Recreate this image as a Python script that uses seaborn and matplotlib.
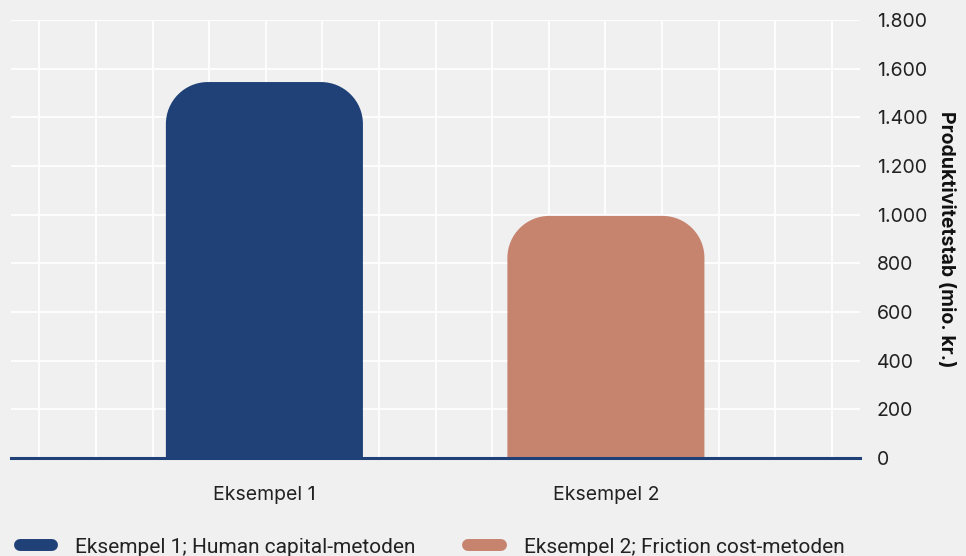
import numpy as np
import matplotlib
matplotlib.use("Agg")
import matplotlib.pyplot as plt
import seaborn as sns
from matplotlib.path import Path
from matplotlib.patches import PathPatch
from matplotlib.lines import Line2D
from matplotlib.ticker import FuncFormatter

# data
categories = ["Eksempel 1", "Eksempel 2"]
values = [1545, 995]
legend_labels = ["Eksempel 1; Human capital-metoden", "Eksempel 2; Friction cost-metoden"]
colors = ["#1f4178", "#c6846f"]
y_ticks = [0, 200, 400, 600, 800, 1000, 1200, 1400, 1600, 1800]
y_label = "Produktivitetstab (mio. kr.)"

BG = "#f0f0f0"
W, H = 966, 556

sns.set_theme(style="white")
plt.rcParams["font.family"] = ["Inter", "DejaVu Sans"]

fig = plt.figure(figsize=(W / 100, H / 100), dpi=100, facecolor=BG)
ax = fig.add_axes([11 / W, 98 / H, 849 / W, 438 / H], facecolor=BG)

sns.barplot(x=categories, y=values, hue=categories, palette=colors,
            width=0.577, legend=False, ax=ax, saturation=1)

ax.set_xlim(-0.742, 1.744)
ax.set_ylim(0, 1800)

# replace bars with rounded-top versions
radius_px = 42
xr = (ax.get_xlim()[1] - ax.get_xlim()[0]) / 849
yr = 1800 / 438
rx, ry = radius_px * xr, radius_px * yr
for p in list(ax.patches):
    x0, w, h = p.get_x(), p.get_width(), p.get_height()
    c = p.get_facecolor()
    p.remove()
    x1 = x0 + w
    k = 0.5523
    verts = [
        (x0, 0), (x0, h - ry),
        (x0, h - ry + k * ry), (x0 + rx - k * rx, h), (x0 + rx, h),
        (x1 - rx, h),
        (x1 - rx + k * rx, h), (x1, h - ry + k * ry), (x1, h - ry),
        (x1, 0), (x0, 0),
    ]
    codes = [Path.MOVETO, Path.LINETO,
             Path.CURVE4, Path.CURVE4, Path.CURVE4,
             Path.LINETO,
             Path.CURVE4, Path.CURVE4, Path.CURVE4,
             Path.LINETO, Path.CLOSEPOLY]
    ax.add_patch(PathPatch(Path(verts, codes), facecolor=c, edgecolor="none", zorder=3))

# grid
x0, x1 = ax.get_xlim()
ax.set_xticks([x0 + (i + 0.5) * (x1 - x0) / 15 for i in range(15)], minor=True)
ax.set_yticks(y_ticks)
ax.grid(which="minor", axis="x", color="white", lw=1.3, zorder=0)
ax.grid(which="major", axis="y", color="white", lw=1.3, zorder=0)
ax.grid(which="major", axis="x", visible=False)
ax.set_axisbelow(True)

for s in ["top", "left", "right"]:
    ax.spines[s].set_visible(False)
ax.spines["bottom"].set_color("#1f4178")
ax.spines["bottom"].set_linewidth(2.2)
ax.spines["bottom"].set_zorder(4)

ax.yaxis.tick_right()
ax.yaxis.set_label_position("right")
ax.yaxis.set_major_formatter(FuncFormatter(lambda v, _: f"{int(v):,}".replace(",", ".")))
ax.tick_params(axis="y", length=0, pad=12, labelsize=14, labelcolor="#222222")
ax.tick_params(axis="x", which="both", length=0, pad=20, labelsize=14, labelcolor="#222222")
ax.set_ylabel(y_label, rotation=270, labelpad=20, fontsize=14, fontweight="bold", color="#111111")
ax.set_xlabel("")

handles = [Line2D([0], [0], color=c, lw=8.6, solid_capstyle="round") for c in colors]
fig.legend(handles, legend_labels, loc="lower left", bbox_to_anchor=(0.001, -0.035),
           ncol=2, frameon=False, handlelength=1.55, handletextpad=1.1,
           columnspacing=2.55, prop={"family": ["Roboto", "DejaVu Sans"], "size": 15},
           labelcolor="#222222")

fig.savefig("out.png", dpi=100, facecolor=BG)
